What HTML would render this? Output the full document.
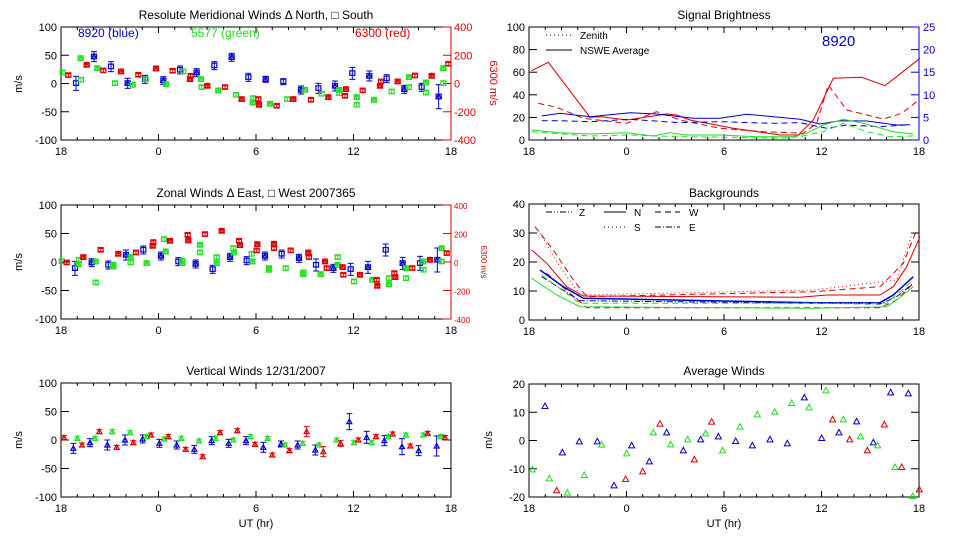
<!DOCTYPE html>
<html><head><meta charset="utf-8"><style>
html,body{margin:0;padding:0;background:#fff;}
svg{display:block;font-family:"Liberation Sans",sans-serif;}
</style></head><body>
<svg id="s" width="960" height="540" xmlns="http://www.w3.org/2000/svg"></svg>
<script>
const S=document.getElementById('s');let o='';
const B='#0000cc',G='#22dd22',R='#dd0000';
function t(x,y,s,opt){opt=opt||{};o+=`<text x="${x}" y="${y}" font-size="${opt.fs||11}" fill="${opt.c||'#000'}" text-anchor="${opt.a||'start'}"${opt.r?` transform="rotate(${opt.r} ${x} ${y})"`:''}>${s}</text>`;}
function L(x1,y1,x2,y2,c,w){o+=`<line x1="${x1}" y1="${y1}" x2="${x2}" y2="${y2}" stroke="${c||'#000'}" stroke-width="${w||1}"/>`;}
function frame(x0,x1,y0,y1,yt,yl,rightRed){
 o+=`<rect x="${x0}" y="${y0}" width="${x1-x0}" height="${y1-y0}" fill="none" stroke="#000"/>`;
 const w=(x1-x0)/24;
 for(let i=0;i<=24;i++){const x=x0+i*w,l=i%6==0?6:3;L(x,y1,x,y1-l);L(x,y0,x,y0+l);}
 const xl=['18','0','6','12','18'];
 for(let i=0;i<5;i++)t(x0+i*6*w,y1+15,xl[i],{a:'middle'});
 yt.forEach((v,i)=>{const y=y1-(y1-y0)*i/(yt.length-1);L(x0,y,x0+8,y);if(!rightRed)L(x1,y,x1-8,y);t(x0-4,y+4,v,{a:'end'});});
}
function P(pts,ox,oy,c,dash,w){o+=`<polyline fill="none" stroke="${c}" stroke-width="${w||1}" ${dash?`stroke-dasharray="${dash}"`:''} points="${pts.map(p=>(ox+p[0]/3).toFixed(1)+','+(oy+p[1]/3).toFixed(1)).join(' ')}"/>`;}
function M(pts,ox,oy,c,err,tri){pts.forEach((p,i)=>{const x=ox+p[0]/3,y=oy+p[1]/3,e=p[2]||err;
 if(e){L(x,y-e,x,y+e,c);L(x-3,y-e,x+3,y-e,c);L(x-3,y+e,x+3,y+e,c);}
 if(tri||i%2)o+=`<polygon points="${x-2.5},${y+2} ${x+2.5},${y+2} ${x},${y-2.5}" fill="none" stroke="${c}" stroke-width="1.2"/>`;
 if(!tri)o+=`<rect x="${x-2.5}" y="${y-2.5}" width="5" height="4.5" fill="none" stroke="${c}" stroke-width="1.2"/>`;});}
function redAxis(x,y0,y1,fs){L(x,y0,x,y1,R);const v=['400','200','0','-200','-400'];for(let i=0;i<5;i++){const y=y0+(y1-y0)*i/4;L(x,y,x-8,y,R);t(x+3,y+4,v[i],{c:R,fs:fs});}}
// Panel 1
t(256,19,'Resolute Meridional Winds Δ North, □ South',{a:'middle',fs:12});
frame(61,451,27,140,['-100','-50','0','50','100'],0,1);redAxis(451,27,140,11);
t(22,84,'m/s',{a:'middle',r:-90});t(490,83,'6300 m/s',{a:'middle',r:90,c:R,fs:11});
t(78,37,'8920 (blue)',{c:B,fs:12});t(191,37,'5577 (green)',{c:G,fs:12});t(355,37,'6300 (red)',{c:R,fs:12});
M([[228,250,7],[282,170,5],[333,200,5],[383,250,5],[435,238,4],[490,242,4],[540,210,4],[590,218,4],[643,197,4],[695,172,4],[745,232,4],[797,238,3],[850,245,3],[903,270,4],[955,265,5],[1005,258,5],[1057,220,6],[1108,228,5],[1160,236,4],[1213,268,4],[1265,262,4],[1316,290,12]],0,0,B,0);
M([[188,218],[242,175],[243,240],[292,205],[345,250],[398,255],[437,238],[498,253],[550,215],[603,238],[605,262],[655,272],[708,285],[758,308],[760,295],[810,312],[862,298],[915,270],[965,282],[1018,270],[1018,280],[1070,292],[1070,315],[1122,300],[1175,275],[1227,232],[1227,262],[1278,248],[1278,278],[1330,205],[1330,250]],0,0,G,2);
M([[205,226],[260,195],[310,212],[363,215],[415,225],[468,206],[518,213],[570,238],[572,228],[622,258],[675,262],[725,298],[775,298],[777,315],[830,318],[880,298],[933,300],[985,292],[1035,288],[1038,268],[1088,272],[1140,258],[1143,245],[1193,245],[1245,227],[1295,228],[1345,192]],0,0,R,1.5);
// Panel 2
t(256,197,'Zonal Winds Δ East, □ West 2007365',{a:'middle',fs:12});
frame(61,451,205,319,['-100','-50','0','50','100'],0,1);redAxis(451,205,319,8);
t(22,262,'m/s',{a:'middle',r:-90});t(481,262,'6300 m/s',{a:'middle',r:90,c:R,fs:8});
M([[225,265,7],[275,248,4],[325,255,4],[378,225,5],[430,210,4],[483,228,4],[535,245,4],[587,252,4],[638,268,4],[690,232,4],[740,242,4],[795,228,4],[845,222,4],[897,235,4],[948,255,6],[1000,265,4],[1052,268,6],[1104,262,6],[1157,210,6],[1208,250,6],[1260,250,7],[1312,240,12]],0,180,B,0);
M([[185,244],[235,253],[237,240],[287,245],[287,308],[340,260],[340,255],[392,232],[392,248],[440,250],[492,178],[497,215],[547,243],[547,250],[600,218],[600,195],[650,232],[650,250],[700,205],[702,218],[755,222],[757,245],[807,265],[807,270],[857,265],[910,283],[910,278],[962,283],[1013,232],[1013,255],[1062,305],[1117,300],[1167,295],[1167,313],[1218,295],[1218,265],[1270,270],[1270,245],[1325,245],[1325,205]],0,180,G,2);
M([[200,248],[250,232],[302,210],[355,222],[408,218],[458,198],[460,187],[510,183],[563,165],[565,182],[615,163],[665,153],[717,183],[720,196],[770,212],[772,193],[822,205],[822,192],[872,212],[925,218],[927,232],[975,245],[980,265],[1028,262],[1030,285],[1080,285],[1130,300],[1132,318],[1183,280],[1186,292],[1237,265],[1290,240],[1340,220]],0,180,R,1.5);
// Panel 3
t(256,375,'Vertical Winds 12/31/2007',{a:'middle',fs:12});
frame(61,451,383,497,['-100','-50','0','50','100']);
t(22,440,'m/s',{a:'middle',r:-90});t(256,527,'UT (hr)',{a:'middle'});
M([[220,265,5],[270,248,4],[322,255,5],[375,240,5],[428,237,4],[478,250,4],[530,255,4],[583,268,4],[635,242,4],[686,250,4],[738,242,4],[790,262,5],[843,252,3],[893,255,4],[946,270,5],[1048,185,8],[1100,232,6],[1153,242,5],[1206,260,8],[1256,272,5],[1310,258,10]],0,360,B,0,1);
M([[232,235],[285,235],[337,215],[390,218],[440,230],[493,237],[544,235],[597,243],[647,235],[700,240],[752,230],[803,235],[855,255],[908,250],[958,255],[1010,240],[1062,248],[1115,248],[1165,230],[1218,225],[1270,225],[1323,230]],0,360,G,2,1);
M([[192,233],[246,255],[298,215],[350,262],[400,248],[453,225],[505,230],[557,268],[608,290],[660,218],[712,212],[765,253],[817,285],[868,272],[920,215,5],[970,275,5],[1022,250,3],[1075,240],[1128,230],[1178,222],[1231,258],[1283,220],[1335,233]],0,360,R,2,1);
// Right panel 1
t(724,19,'Signal Brightness',{a:'middle',fs:12});
frame(529,919,27,140,['0','20','40','60','80','100'],0,1);
L(919,27,919,140,B);['25','20','15','10','5','0'].forEach((v,i)=>{const y=27+113*i/5;L(919,y,911,y,B);t(923,y+4,v,{c:B});});
t(822,46,'8920',{c:B,fs:15});
o+=`<line x1="546" y1="35" x2="572" y2="35" stroke="#000" stroke-dasharray="1,3"/>`;
t(580,39,'Zenith',{fs:10});L(546,50,572,50);t(580,54,'NSWE Average',{fs:10});
const rx=480;
P([[155,212],[205,187],[330,352],[365,350],[440,360],[560,342],[590,345],[630,360],[760,385],[900,405],[955,405],[1000,360],[1060,235],[1145,232],[1215,257],[1320,175]],rx,0,R);
P([[175,310],[230,322],[310,355],[440,370],[530,335],[600,360],[720,385],[850,395],[970,400],[1010,370],[1045,255],[1100,330],[1210,357],[1265,340],[1310,305]],rx,0,R,'6,4');
P([[185,348],[240,340],[330,350],[450,338],[530,342],[640,355],[720,355],[800,343],[880,350],[960,358],[1020,372],[1080,362],[1160,363],[1250,375],[1290,374]],rx,0,B);
P([[185,362],[240,362],[330,365],[450,358],[600,368],[720,365],[880,370],[960,368],[1040,385],[1100,375],[1200,380],[1290,374]],rx,0,B,'6,4');
P([[155,390],[240,398],[330,402],[440,398],[520,408],[570,398],[620,405],[720,405],[830,410],[940,410],[980,400],[1030,375],[1090,358],[1150,370],[1240,395],[1300,402]],rx,0,G);
P([[155,395],[330,408],[450,405],[600,410],[760,412],[900,415],[960,410],[1030,395],[1090,370],[1160,395],[1230,410],[1300,408]],rx,0,G,'6,4');
// Right panel 2
t(724,197,'Backgrounds',{a:'middle',fs:12});
frame(529,919,204,320,['0','10','20','30','40']);
o+=`<line x1="546" y1="212" x2="572" y2="212" stroke="#000" stroke-dasharray="6,2,1,2,1,2"/>`;t(579,216,'Z',{fs:10});
L(604,212,626,212);t(634,216,'N',{fs:10});
o+=`<line x1="655" y1="212" x2="680" y2="212" stroke="#000" stroke-dasharray="6,4"/>`;t(689,216,'W',{fs:10});
o+=`<line x1="604" y1="227" x2="626" y2="227" stroke="#000" stroke-dasharray="1,3"/>`;t(634,231,'S',{fs:10});
o+=`<line x1="655" y1="227" x2="680" y2="227" stroke="#000" stroke-dasharray="6,2,1,2"/>`;t(689,231,'E',{fs:10});
const by=180;
P([[155,210],[200,250],[260,320],[310,348],[700,350],[960,352],[1040,345],[1200,345],[1240,320],[1280,260],[1320,170]],rx,by,R);
P([[165,140],[220,210],[280,300],[320,350],[1000,335],[1200,320],[1270,250],[1310,150]],rx,by,R,'6,4');
P([[180,160],[240,260],[300,345],[1000,330],[1250,300],[1300,150]],rx,by,R,'1,3');
P([[200,280],[320,383],[1200,383],[1250,360],[1300,310]],rx,by,R,'6,4');
P([[180,270],[250,320],[310,355],[1000,368],[1200,368],[1240,345],[1300,290]],rx,by,B,0,1.5);
P([[185,290],[300,362],[1200,372],[1250,350],[1300,310]],rx,by,B,'6,2,1,2');
P([[155,295],[230,345],[300,380],[1000,385],[1220,380],[1250,360],[1300,320]],rx,by,G);
P([[185,285],[300,370],[1220,370],[1300,300]],rx,by,G,'6,4');
// Right panel 3
t(724,375,'Average Winds',{a:'middle',fs:12});
frame(529,919,384,497,['-20','-10','0','10','20']);
t(492,440,'m/s',{a:'middle',r:-90});t(724,527,'UT (hr)',{a:'middle'});
function tri(pts,c){pts.forEach(p=>{const x=rx+p[0]/3,y=360+p[1]/3;o+=`<polygon points="${x-3},${y+2.5} ${x+3},${y+2.5} ${x},${y-3}" fill="none" stroke="${c}"/>`;});}
tri([[195,138],[247,277],[298,244],[352,244],[402,376],[455,256],[508,304],[560,217],[610,271],[662,238],[715,229],[767,243],[817,256],[870,238],[922,250],[973,112],[1025,234],[1077,217],[1130,184],[1180,247],[1232,97],[1285,100]],B);
tri([[157,328],[208,355],[262,398],[313,345],[365,254],[440,280],[520,217],[572,253],[623,238],[677,220],[728,271],[780,200],[832,163],[884,155],[935,129],[987,142],[1038,91],[1090,178],[1142,229],[1193,256],[1245,321],[1298,408]],G);
tri([[230,391],[437,357],[488,334],[540,191],[643,298],[695,185],[1058,178],[1109,238],[1162,271],[1213,193],[1265,321],[1318,388]],R);
S.innerHTML=o;
</script>
</body></html>
